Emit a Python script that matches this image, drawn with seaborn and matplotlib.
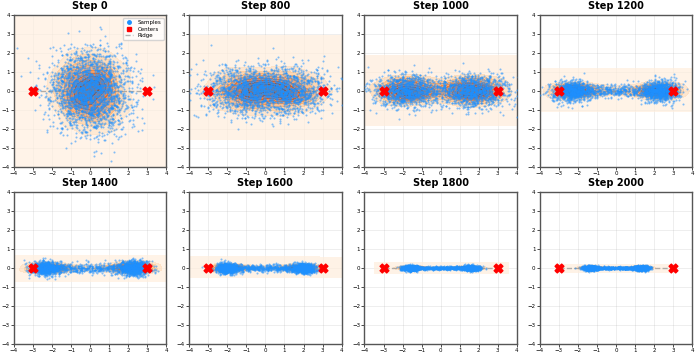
import numpy as np
import matplotlib
matplotlib.use("Agg")
import matplotlib.pyplot as plt
from matplotlib.lines import Line2D
import seaborn as sns

# ---- data ----
steps = [0, 800, 1000, 1200, 1400, 1600, 1800, 2000]
mode_pos = [0.0, 1.3, 1.9, 2.35, 2.35, 2.0, 1.6, 1.35]     # |x| of the two sample modes
mode_sd_x = [1.05, 1.1, 0.85, 0.5, 0.38, 0.3, 0.22, 0.2]   # x spread of each mode
sd_y = [1.05, 0.62, 0.45, 0.27, 0.19, 0.13, 0.07, 0.06]    # y spread of each mode
bridge_frac = [0.0, 0.15, 0.2, 0.25, 0.25, 0.25, 0.3, 0.3] # share of samples between modes
bridge_sd_y = [1.0, 0.55, 0.38, 0.18, 0.13, 0.09, 0.04, 0.035]
centers_x = [-3.0, 3.0]
centers_y = [0.0, 0.0]
ticks = [-4, -3, -2, -1, 0, 1, 2, 3, 4]
n_samples = 2200

rng = np.random.default_rng(7)


def samples(i):
    n = n_samples
    nb = int(n * bridge_frac[i])
    nm = n - nb
    side = np.where(rng.random(nm) < 0.5, -1.0, 1.0)
    xm = side * mode_pos[i] + rng.normal(0, mode_sd_x[i], nm)
    ym = rng.normal(0, sd_y[i], nm)
    xb = rng.uniform(-mode_pos[i], mode_pos[i], nb)
    yb = rng.normal(0, bridge_sd_y[i], nb)
    return np.concatenate([xm, xb]), np.concatenate([ym, yb])


fig, axes = plt.subplots(2, 4, figsize=(6.97, 3.55), dpi=100)
fig.subplots_adjust(left=0.02, right=0.993, top=0.958, bottom=0.031,
                    wspace=0.15, hspace=0.165)

for i, ax in enumerate(axes.flat):
    x, y = samples(i)
    sns.kdeplot(x=x, y=y, fill=True, cmap="Oranges", thresh=0, levels=10,
                alpha=0.7, gridsize=100, ax=ax, zorder=1)
    ax.plot(centers_x, centers_y, "--", color="gray", alpha=0.6, lw=1,
            zorder=2)
    sns.scatterplot(x=x, y=y, s=2.2, color="#1e90ff", alpha=0.55, linewidth=0,
                    ax=ax, zorder=3, legend=False)
    ax.scatter(centers_x, centers_y, marker="X", s=40, color="red", zorder=5)
    ax.set_xlim(-4, 4)
    ax.set_ylim(-4, 4)
    ax.set_xticks(ticks)
    ax.set_yticks(ticks)
    ax.tick_params(labelsize=4, length=2, width=0.5, pad=1)
    ax.grid(True, alpha=0.3, lw=0.5)
    ax.set_axisbelow(True)
    for s in ax.spines.values():
        s.set_color("#555555")
        s.set_linewidth(1.0)
    ax.set_xlabel("")
    ax.set_ylabel("")
    ax.set_title(f"Step {steps[i]}", fontsize=7, fontweight="bold", pad=4)
    if i == 0:
        handles = [
            Line2D([], [], ls="", marker="o", ms=2.5, color="#1e90ff"),
            Line2D([], [], ls="", marker="s", ms=2.5, color="red"),
            Line2D([], [], ls="--", lw=1, color="gray", alpha=0.6),
        ]
        ax.legend(handles, ["Samples", "Centers", "Ridge"],
                  loc="upper right", fontsize=4, handlelength=1.5,
                  borderpad=0.4, labelspacing=0.3)

fig.savefig("out.png", dpi=100)
